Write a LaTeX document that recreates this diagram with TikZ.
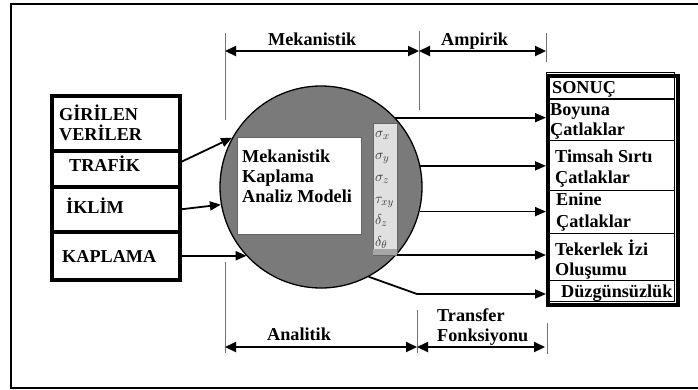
\documentclass[tikz,border=0pt]{standalone}
\usepackage{fontspec}
\setmainfont{Liberation Serif}
\usetikzlibrary{arrows.meta,calc}

\begin{document}
\begin{tikzpicture}[x=1pt,y=-1pt,
  lbl/.style={font=\bfseries\fontsize{18.2}{21}\selectfont, inner sep=0pt, anchor=base west},
  sym/.style={font=\fontsize{15}{17}\selectfont, text=black!78, inner sep=0pt, anchor=base west},
  inbox/.style={draw, line width=3.5pt, anchor=north west, inner sep=0pt, minimum width=128pt},
  rowbox/.style={draw, line width=1.4pt, anchor=north west, inner sep=0pt, minimum width=128pt},
  flow/.style={line width=1.8pt, -{Triangle[length=11pt,width=9pt]}},
  dim/.style={line width=2.2pt, {Triangle[length=11pt,width=10pt]}-{Triangle[length=11pt,width=10pt]}},
  guide/.style={draw=black!55, line width=0.9pt}]
\useasboundingbox (0,0) rectangle (698,389);

% outer frame
\draw[line width=2.2pt] (700,4) -- (11,4) -- (11,388) -- (700,388);

% input boxes
\node[inbox, minimum height=55pt] (giri) at (50,94) {};
\node[inbox, minimum height=36pt] (trafik) at (50,149) {};
\node[inbox, minimum height=45pt] (iklim) at (50,185) {};
\node[inbox, minimum height=48pt] (kaplama) at (50,230) {};
\node[lbl] (tgiri1) at (59,120) {GİRİLEN};
\node[lbl] (tgiri2) at (59,140) {VERİLER};
\node[lbl] (ttrafik) at (69,171) {TRAFİK};
\node[lbl] (tiklim) at (66,213) {İKLİM};
\node[lbl] (tkaplama) at (62,262) {KAPLAMA};

% analysis model circle
\node[circle, draw, fill=black!52, line width=1.3pt, minimum size=202pt, inner sep=0pt] (circ) at (321,187) {};
\node[draw=black!60, fill=white, line width=0.8pt, anchor=north west, minimum width=124pt, minimum height=97pt, inner sep=0pt] (model) at (237,137) {};
\node[lbl] (tm1) at (242,162) {Mekanistik};
\node[lbl] (tm2) at (242,182) {Kaplama};
\node[lbl] (tm3) at (242,202) {Analiz Modeli};

% response column
\node[draw=black!60, fill=black!12, line width=0.8pt, anchor=north west, minimum width=24pt, minimum height=132pt, inner sep=0pt] (sig) at (373,123) {};
\fill[black!35] (373.4,249) rectangle (396.6,254.6);
\node[sym] (s1) at (375,137) {$\sigma_x$};
\node[sym] (s2) at (375,159) {$\sigma_y$};
\node[sym] (s3) at (375,181) {$\sigma_z$};
\node[sym] (s4) at (375,203) {$\tau_{xy}$};
\node[sym] (s5) at (375,224) {$\delta_z$};
\node[sym] (s6) at (375,246) {$\delta_\theta$};

% result boxes
\node[rowbox, minimum height=26pt] (rsonuc) at (546,72) {};
\node[rowbox, minimum height=41pt] (rboy) at (546,99) {};
\node[rowbox, minimum height=50pt] (rtim) at (546,140) {};
\node[rowbox, minimum height=43pt] (ren) at (546,190) {};
\node[rowbox, minimum height=47pt] (rtek) at (546,233) {};
\node[rowbox, minimum height=21pt] (rduz) at (546,280) {};
\node[draw, line width=4pt, anchor=north west, inner sep=0pt, minimum width=130pt, minimum height=229pt] (frame) at (546,74) {};
\node[lbl] (tsonuc) at (552,93) {SONUÇ};
\node[lbl] (tb1) at (550,115) {Boyuna};
\node[lbl] (tb2) at (550,135) {Çatlaklar};
\node[lbl] (tt1) at (555,162) {Timsah Sırtı};
\node[lbl] (tt2) at (555,183) {Çatlaklar};
\node[lbl] (te1) at (556,205) {Enine};
\node[lbl] (te2) at (556,227) {Çatlaklar};
\node[lbl] (tk1) at (555,255) {Tekerlek İzi};
\node[lbl] (tk2) at (555,275) {Oluşumu};
\node[lbl] (td) at (561,297) {Düzgünsüzlük};

% inputs into the model
\draw[flow] ([yshift=7pt]trafik.east) -- (circ.151);
\draw[flow] (iklim.east) -- (circ.190);
\draw[flow] (kaplama.east) -- (kaplama.east -| circ.223);

% outputs to the distresses
\draw[flow] (circ.43) -- (circ.43 -| frame.west);
\draw[flow] (circ.12.6) -- (circ.12.6 -| frame.west);
\draw[flow] (circ.-14.3) -- (circ.-14.3 -| frame.west);
\draw[flow] (circ.-42.3) -- (circ.-42.3 -| frame.west);
\coordinate (bend) at (417,294);
\draw[flow] (circ.-62) -- (bend) -- (bend -| frame.west);

% dimension guides
\draw[guide] (225,33) -- (225,120);
\draw[guide] (419,31) -- (419,110);
\draw[guide] (546,33) -- (546,62);
\draw[guide] (225,262) -- (225,353);
\draw[guide] (417,310) -- (417,353);
\draw[guide] (547,323) -- (547,354);

\coordinate (dm1) at (225,51);
\coordinate (dm2) at (419,51);
\coordinate (dm3) at (546,51);
\draw[dim] (dm1) -- (dm2);
\draw[dim] (dm2) -- (dm3);
\node[lbl] (tmek) at (268,45) {Mekanistik};
\node[lbl] (tamp) at (441,45) {Ampirik};

\coordinate (da1) at (225,347);
\coordinate (da2) at (417,347);
\coordinate (da3) at (545,347);
\draw[dim] (da1) -- (da2);
\draw[dim] (da2) -- (da3);
\node[lbl] (tana) at (267,340) {Analitik};
\node[lbl] (ttr1) at (437,321) {Transfer};
\node[lbl] (ttr2) at (437,341) {Fonksiyonu};
\end{tikzpicture}
\end{document}
